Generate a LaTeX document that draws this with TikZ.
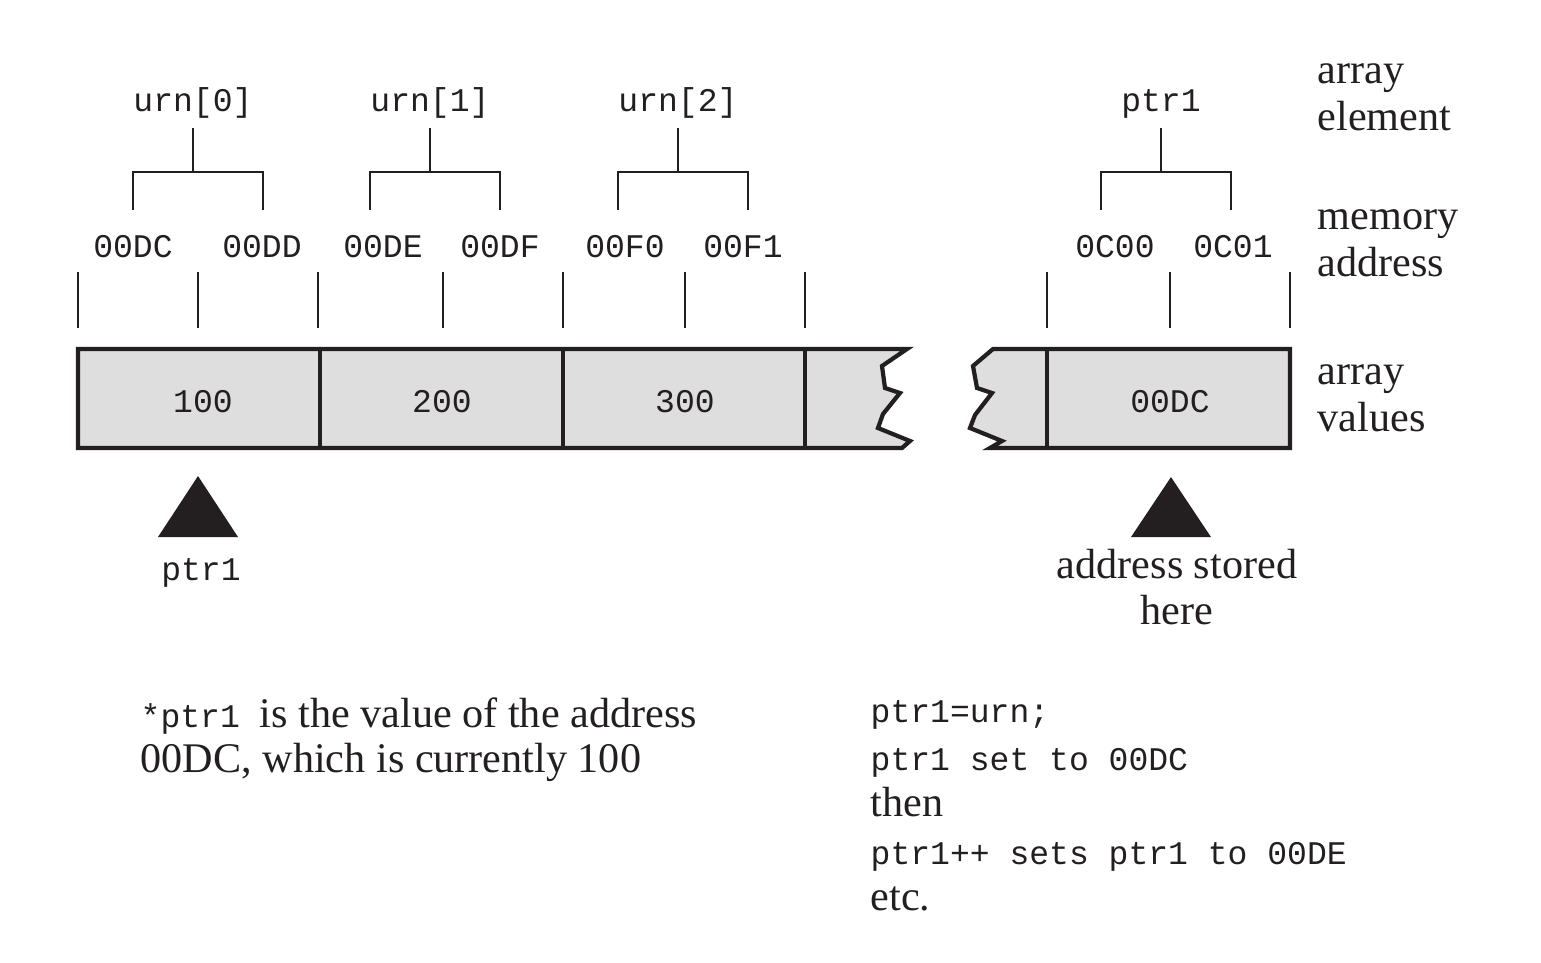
\documentclass[tikz,border=0pt]{standalone}
\usepackage{fontspec}
\setmainfont{Liberation Serif}
\setmonofont{Liberation Mono}
\usetikzlibrary{calc}
\tikzset{>=latex}
\definecolor{ink}{HTML}{231F20}
\definecolor{cellgray}{HTML}{DEDEDE}
\tikzset{
  code/.style={font=\fontsize{9.4}{11}\selectfont\ttfamily,text=ink,inner sep=0pt},
  words/.style={font=\fontsize{12}{13}\selectfont,text=ink,inner sep=0pt},
  thinline/.style={draw=ink,line width=0.6pt},
  cellline/.style={draw=ink,line width=1.2pt},
}

\begin{document}
\begin{tikzpicture}[x=0.01cm,y=-0.01cm]
    \useasboundingbox (0,0) rectangle (1541,963);

    % array cells, broken in the middle
    \coordinate (c0) at (78,349);
    \coordinate (c1) at (320,349);
    \coordinate (c2) at (563,349);
    \coordinate (c3) at (805,349);
    \coordinate (c4) at (1047,349);
    \coordinate (c5) at (1290,349);

    \filldraw [cellline,fill=cellgray,line join=miter] (c0) -- (907,349) -- (882,366)
    -- (885,388) -- (900,393) -- (883,414) -- (878,428) -- (910,441)
    -- (902,448) -- (78,448) -- cycle;

    \filldraw [cellline,fill=cellgray,line join=miter] (993,349) -- (c5) -- (1290,448)
    -- (990,448) -- (1002,441) -- (970,428) -- (975,415) -- (992,393)
    -- (977,388) -- (973,366) -- cycle;

    \draw [cellline] (c1) -- ++(0,99);
    \draw [cellline] (c2) -- ++(0,99);
    \draw [cellline] (c3) -- ++(0,99);
    \draw [cellline] (c4) -- ++(0,99);

    \node [code,anchor=base] (v0) at (203,412) {100};
    \node [code,anchor=base] (v1) at (442,412) {200};
    \node [code,anchor=base] (v2) at (685,412) {300};
    \node [code,anchor=base] (v3) at (1170,412) {00DC};

    % address ticks
    \draw [thinline] (78,272) -- (78,328);
    \draw [thinline] (198,272) -- (198,328);
    \draw [thinline] (318,272) -- (318,328);
    \draw [thinline] (443,272) -- (443,328);
    \draw [thinline] (563,272) -- (563,328);
    \draw [thinline] (685,272) -- (685,328);
    \draw [thinline] (805,272) -- (805,328);
    \draw [thinline] (1047,272) -- (1047,328);
    \draw [thinline] (1170,272) -- (1170,328);
    \draw [thinline] (1290,272) -- (1290,328);

    \node [code,anchor=base] (a0) at (133,257) {00DC};
    \node [code,anchor=base] (a1) at (262,257) {00DD};
    \node [code,anchor=base] (a2) at (383,257) {00DE};
    \node [code,anchor=base] (a3) at (500,257) {00DF};
    \node [code,anchor=base] (a4) at (625,257) {00F0};
    \node [code,anchor=base] (a5) at (743,257) {00F1};
    \node [code,anchor=base] (a6) at (1115,257) {0C00};
    \node [code,anchor=base] (a7) at (1233,257) {0C01};

    % element brackets
    \node [code,anchor=base] (urn0) at (193,111) {urn[0]};
    \node [code,anchor=base] (urn1) at (430,111) {urn[1]};
    \node [code,anchor=base] (urn2) at (678,111) {urn[2]};
    \node [code,anchor=base] (ptr) at (1161,111) {ptr1};

    \coordinate (b0) at (193,172);
    \coordinate (b1) at (430,172);
    \coordinate (b2) at (678,172);
    \coordinate (b3) at (1161,172);

    \draw [thinline] (193,128) -- (b0) (133,210) |- (b0) -| (263,210);
    \draw [thinline] (430,128) -- (b1) (370,210) |- (b1) -| (500,210);
    \draw [thinline] (678,128) -- (b2) (618,210) |- (b2) -| (748,210);
    \draw [thinline] (1161,128) -- (b3) (1101,210) |- (b3) -| (1231,210);

    % pointer markers
    \coordinate (t0) at (198,476);
    \coordinate (t1) at (1171,477);
    \fill [ink] (t0) -- ++(40,61) -- ++(-80,0) -- cycle;
    \fill [ink] (t1) -- ++(40,60) -- ++(-80,0) -- cycle;

    \node [code,anchor=base] (p0) at (201,580) {ptr1};
    \node [words,anchor=base] (s0) at (1177,578) {address stored};
    \node [words,anchor=base] (s1) at (1177,624) {here};

    % row names
    \node [words,anchor=base west] (r0) at (1317,83) {array};
    \node [words,anchor=base west] (r1) at (1317,130) {element};
    \node [words,anchor=base west] (r2) at (1317,229) {memory};
    \node [words,anchor=base west] (r3) at (1317,276) {address};
    \node [words,anchor=base west] (r4) at (1317,384) {array};
    \node [words,anchor=base west] (r5) at (1317,431) {values};

    % notes
    \node [words,anchor=base west] (n0) at (140,727)
    {\fontsize{9.4}{11}\selectfont\ttfamily *ptr1 \fontsize{12}{13}\rmfamily is the value of the address};
    \node [words,anchor=base west] (n1) at (140,772) {00DC, which is currently 100};

    \node [code,anchor=base west] (m0) at (870,722) {ptr1=urn;};
    \node [code,anchor=base west] (m1) at (870,770) {ptr1 set to 00DC};
    \node [words,anchor=base west] (m2) at (870,816) {then};
    \node [code,anchor=base west] (m3) at (870,864) {ptr1++ sets ptr1 to 00DE};
    \node [words,anchor=base west] (m4) at (870,910) {etc.};
\end{tikzpicture}
\end{document}
